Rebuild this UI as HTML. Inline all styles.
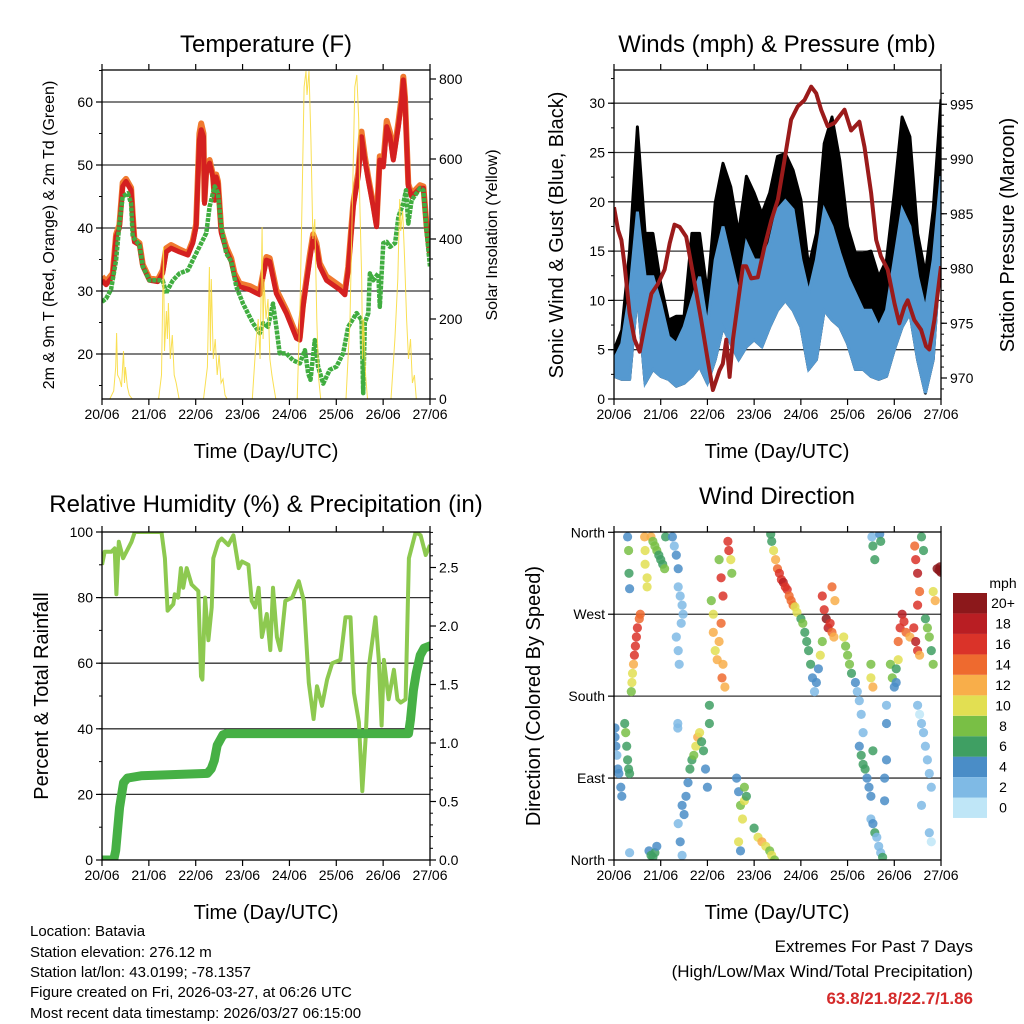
<!DOCTYPE html>
<html><head><meta charset="utf-8"><style>
html,body{margin:0;padding:0;background:#fff;}
svg{display:block;font-family:"Liberation Sans",Arial,sans-serif;}
</style></head><body>
<svg id="fig" xmlns="http://www.w3.org/2000/svg" width="1024" height="1024" viewBox="0 0 1024 1024">
<rect x="0" y="0" width="1024" height="1024" fill="#fff"/>
<g font-size="24" text-anchor="middle" fill="#000">
<text x="266" y="52">Temperature (F)</text>
<text x="777" y="52">Winds (mph) &amp; Pressure (mb)</text>
<text x="266" y="512">Relative Humidity (%) &amp; Precipitation (in)</text>
<text x="777" y="504">Wind Direction</text>
</g>
<g font-size="20" text-anchor="middle">
<text x="266" y="458">Time (Day/UTC)</text>
<text x="777" y="458">Time (Day/UTC)</text>
<text x="266" y="919">Time (Day/UTC)</text>
<text x="777" y="919">Time (Day/UTC)</text>
<text transform="translate(563,235) rotate(-90)">Sonic Wind &amp; Gust (Blue, Black)</text>
<text transform="translate(1014,235) rotate(-90)">Station Pressure (Maroon)</text>
<text transform="translate(48,696) rotate(-90)">Percent &amp; Total Rainfall</text>
<text transform="translate(540,696) rotate(-90)">Direction (Colored By Speed)</text>
</g>
<g font-size="16" text-anchor="middle">
<text transform="translate(54,235) rotate(-90)">2m &amp; 9m T (Red, Orange) &amp; 2m Td (Green)</text>
<text transform="translate(497,235) rotate(-90)">Solar Insolation (Yellow)</text>
</g>
<g font-size="15">
<text x="30" y="936">Location: Batavia</text>
<text x="30" y="957">Station elevation: 276.12 m</text>
<text x="30" y="977">Station lat/lon: 43.0199; -78.1357</text>
<text x="30" y="997">Figure created on Fri, 2026-03-27, at 06:26 UTC</text>
<text x="30" y="1018">Most recent data timestamp: 2026/03/27 06:15:00</text>
</g>
<g font-size="17" text-anchor="end">
<text x="973" y="952">Extremes For Past 7 Days</text>
<text x="973" y="977">(High/Low/Max Wind/Total Precipitation)</text>
<text x="973" y="1004" font-weight="bold" fill="#d42a2a">63.8/21.8/22.7/1.86</text>
</g>
<g id="dyn"></g>
</svg>
<script>
// ---- Temperature panel data (hours since 20/06 00Z) ----
var tempHours=[0,2.1,5.5,7.2,8.9,10.6,12.3,14.9,15.7,16.6,19.2,20.9,24.3,28.6,31.1,32.9,35.4,39.7,44,46.5,48.2,49.9,50.8,52,52.5,53.4,55.1,56.8,57.7,58.5,59.4,61.1,63.6,66.2,67.9,70.5,75.6,80.8,82.5,84.2,85.9,89.3,94.4,99.6,101.3,103,106.4,108.1,109.8,111.5,115,121.8,124.4,126.1,128.7,131.2,132.9,134.6,136.4,138.9,140.6,142.3,144.1,145.8,147.5,149.2,151.8,153.5,154.3,155.2,156.9,158.6,162.9,164.6,166.3,168];
var tempRed=[31.7,31,32.3,38.6,40,46.6,47.4,46,41.8,37.8,37.3,33.9,31.7,31.5,32.8,36.2,36.8,36.2,35.7,37.6,40.2,54,55.6,54.5,43.9,48.7,50.3,48.1,44.4,48.1,47,39.2,36.5,34.7,32.3,30.7,30.2,29.4,32.3,34.9,34.7,29.6,26.5,22.5,22.2,27.5,34.9,38.4,37,33.9,31.7,30.2,29.4,33.3,43.4,48.1,54.5,50.8,47.6,43.4,40.2,50.8,49.7,56.1,54.5,50.8,56.1,60.3,63.5,60.3,46.6,45,46.3,46.3,39.7,35.5];
var tempOrange=[32.3,31.5,32.8,39,40.5,47.2,47.8,46.4,42.2,38.2,37.6,34.2,32,31.8,33.3,36.8,37.3,36.6,36,38,40.6,55,56.6,55,44.3,49.2,50.8,48.5,44.8,48.5,47.4,39.6,37,35.2,32.8,31.2,30.8,30,32.8,35.4,35.2,30.2,27,23,22.6,28,35.6,39,37.6,34.4,32.3,30.8,30,33.8,44,48.8,55.3,51.4,48,43.8,40.6,51.4,50.4,57,55.2,51.2,56.8,61,64,60.8,47,45.4,46.8,46.6,40.1,35.9];
var dewHours=[0,2.1,4.6,7.2,8.9,10.6,13.2,14.9,15.7,19.2,20.9,24.3,31.1,32.9,33.7,36.3,39.7,44,46.5,49.9,53.4,55.1,56.8,57.7,59.4,61.1,63.6,66.2,68.8,72.2,77.3,80.8,82.5,85,87.6,89.3,91,94.4,97.9,101.3,103.9,105.6,106.8,109,110.7,113.3,116.7,120.1,123.5,126.1,130.4,132.9,133.8,134.6,136.4,137.2,138.9,141.5,142.3,144.1,145.8,147.5,150.1,151.8,154.3,155.7,156.9,158.6,162.9,164.6,166.3,168];
var dewVals=[28.3,28.8,30.2,34.9,40.7,45,45.5,43.9,38.6,37.3,33.9,31.7,31.7,29.6,30.2,31.7,32.8,33.3,34.9,37,39.2,43.4,45.5,46.6,45.5,40.2,36,34.7,30.7,28,24.9,23.3,24.9,24.3,28,24.3,20.1,20.1,19,18.5,20.6,16.9,15.9,22.2,18,15.3,17.5,18,20.1,24.3,26.5,25.4,13.8,24.9,26.5,32.8,31.7,32.8,27.5,37.6,37.8,37,37.6,41.8,43.9,46,40.7,44.4,46.3,46,39.2,33.9];
var solarHours=[0,4,6,7,7.5,8,9,10,11,11.5,12,13,14,15.5,29,30.5,31.5,32,33,33.5,34,35,36,37,38,39.5,52,54,55,55.5,56,57,58,59,60,61,62,63,64,77,79,80,81,82,82.5,83,84,85,86,87,88,89,100,101.5,102.5,103.5,104.5,105,106,107,108,109,110,111,112,125,127,128.5,129.5,130.5,131.5,132,133,133.5,134,135,136,148,150,151.5,152.5,153,154,155,156,157,158,159,160,161,168];
var solarVals=[0,0,20,80,165,60,50,30,120,40,80,30,10,0,0,60,380,120,220,150,240,100,160,60,40,0,0,80,330,120,300,100,150,60,110,40,50,10,0,0,150,200,100,430,150,300,200,250,100,60,30,0,0,250,500,780,820,760,820,650,400,450,200,50,0,0,200,550,780,810,700,500,300,100,200,60,0,0,150,300,500,420,470,350,200,100,150,40,60,0,0];
var tempTicks=[20,30,40,50,60];
var solarTicks=[0,200,400,600,800];
var dayLabels=["20/06","21/06","22/06","23/06","24/06","25/06","26/06","27/06"];
// ---- Winds panel data ----
var presHours=[0,2.1,3.8,5.5,8,10.6,13.2,15.7,19.2,22.6,26,28.6,31.1,33.7,37.1,40.5,44.8,48.2,50.8,52.5,54.2,55.9,57.7,59.4,61.1,63.6,66.2,67.9,70.5,73.9,77.3,80.8,84.2,87.6,91,94.4,97.9,101.3,103.9,106.4,109.8,113.3,115.8,118.4,121.8,126.1,128.7,132.1,134.7,137.2,140.6,144.1,146.6,149.2,150.9,154.3,157.8,160.3,162,164.6,168];
var presVals=[985.6,983.5,982.6,980.2,975.9,973.5,972.4,974.7,977.7,978.6,979.9,982.3,984,983.8,982.9,979.6,975.3,971.6,968.9,969.8,970.7,971.3,973.5,970.1,973.5,976.8,980.2,980.2,979.1,979.2,982,984.4,986.3,989.9,993.6,994.8,995.4,996.6,996,994.5,993,993.3,993.9,994.5,992.6,993.4,991.1,986.9,982.6,981.1,979.9,976.8,975,976.5,977.1,975.3,974.4,972.9,972.6,975.3,980.2];
var windHours=[0,4,8,12,16,20,24,28,32,36,40,44,48,52,56,60,64,68,72,76,80,84,88,92,96,100,104,108,112,116,120,124,128,132,136,140,144,148,152,156,160,164,168];
var windLow=[2.3,2,2,10.7,1.6,3,2.3,2,1.3,1.6,2.3,3.3,1.6,4,7.3,5.6,4,5.3,6,5.3,7.3,9,10,9,7.3,3,4,9,8,7.3,5.6,3,3,2.3,2,2.3,5,7.3,8.7,4,0.6,4,15.8];
var windHigh=[4,5.6,10.7,19,12.4,12.4,9.7,6.3,5.6,7.3,10,12.4,7.3,14.1,17.5,14.1,10.7,15.8,14.1,14.1,15.8,19.2,20.1,19.2,14.1,10.7,14.1,19.2,17.5,14.8,12.4,10.7,9,9,7.3,9,14.1,19.2,17.5,12.4,9,14.1,22.6];
var gustHigh=[5,7,15,27.6,16.8,16.8,11.7,8,8.4,8.4,16.8,16.8,10.7,19.9,23.9,21.5,16.8,22.6,20.9,18.8,20.9,24.6,24.9,23.2,20.2,13.4,16.8,25.9,28.6,24.2,17.5,14.8,14.8,15,12.4,14.1,20.9,28.6,26.6,16.8,12.7,19.2,30.3];
var windTicks=[0,5,10,15,20,25,30];
var presTicks=[970,975,980,985,990,995];
// ---- RH / precip ----
var rhHours=[0,1.4,4.8,6.5,7.4,8.6,10.8,15.1,16.8,30.5,32.2,33.6,36.5,37.3,39,40.4,41.6,43.4,45.9,49.3,50.7,51.4,52.8,54.5,56.2,57,59.6,61.3,64.7,67.3,70,71.7,75,76.7,78.4,80.2,81.9,84.4,86.2,87.6,89.6,91.3,93.9,97.4,100.8,103.4,105.9,108.4,110.1,112.7,115.3,117.9,122.1,124.7,127.3,129,131.6,133.3,135,136.7,140.1,141.8,143.2,144.4,146.8,149.5,151.3,153,155.5,157.2,160.7,163.2,165.8,168];
var rhVals=[90,94,94,95,81,97,92,97,100,100,92,76,78,81,80,89,83,89,84,82,56,55,80,67,77,92,97,98,96,99,89,91,90,79,77,83,68,75,64,83,68,64,79,80,85,79,54,43,53,47,55,60,61,74,74,51,42,21,37,59,74,61,41,61,49,58,49,48,49,92,100,99,93,96];
var precipHours=[0,6,7,9,11,13,20,54,56,57.5,59,62,64,157,158,159.5,161,163,165,168];
var precipVals=[0,0,0.08,0.45,0.66,0.70,0.72,0.74,0.78,0.85,0.98,1.07,1.08,1.08,1.2,1.45,1.6,1.75,1.81,1.83];
var rhTicks=[0,20,40,60,80,100];
var precipTicks=[0,0.5,1,1.5,2,2.5];
// ---- Wind direction ----
var dirHours=[0.5,0.5,1,1.5,2,2.5,3.5,4,5.5,6,6.5,7,7.5,8,8.9,9.2,9.5,10,10.5,11,11.5,12,13,13.5,7.5,7.7,8,7,15.7,16,16,17,17,19,20,21,22,23,24,25,26,26.5,30,31,32,33,33,34,35,35.5,34.5,32,33,33.5,32.8,32.8,18,19,20,21,22,8,33,34,35,35,36,37,38,39,40,41,42,43,44,45,46,47,48,49,49,50,51,51,52,53,54,55,55.5,56,57,56,55,54,58.5,59,60,60.5,63,64,65,66,67,67,68,64,65,72,74,76,78,80,81,82.5,80.5,81,82,83,84,85,86,87,88,89,90,91,92,93,94,96,97,98,99,100,101,102,103,104,105,106,107,107,108,109,110,111,112,113,113.5,112,118,119,120,121,122,124,125,126,127,128,126,127,128,129,130,131,132,133,132,133,134,135,136,137,138,139,139,140,140,140,132.5,133,134,136.5,137,132,132,133,142,143,144,145,145,146,146,147,148,149,150,152,154,155,156,157,154.5,155,156,157,156,158,159,156,157,158,159,160,161,162,163,162,163,158,160,161,162,163,164,165,164,166,167,168,167.5];
var dirDeg=[145,135,125,115,100,95,80,70,150,140,125,110,100,95,185,195,205,215,225,235,245,255,265,270,340,315,298,355,355,340,325,310,300,355,350,345,340,335,330,325,320,355,355,345,335,320,300,290,280,270,260,245,230,215,150,145,10,5,3,8,15,8,40,20,5,60,50,70,85,100,110,115,125,135,140,130,120,100,80,150,170,285,270,250,230,220,240,260,200,215,190,290,310,330,350,340,330,315,90,75,60,45,65,80,70,20,10,35,25,20,15,10,5,0,358,350,340,330,320,315,308,305,300,297,290,285,280,278,272,265,260,250,240,230,215,200,185,195,210,225,240,290,275,265,255,260,250,245,285,300,245,235,225,215,205,195,185,175,160,140,125,115,105,100,90,80,70,120,45,40,30,25,15,8,3,65,90,110,150,170,355,345,330,358,350,200,215,190,215,200,190,195,210,220,240,255,270,262,250,245,255,240,230,225,345,330,315,295,280,355,340,170,160,150,140,125,110,95,80,30,20,60,265,255,245,230,215,285,295,320,318,316,322];
var dirSpeed=[4,4,4,3,4,4,4,4,7,8,7,7,6,6,8,10,10,13,16,17,17,16,15,14,9,6,4,4,12,11,10,10,11,12,8,8,9,7,7,7,8,6,4,3,4,4,3,2,3,2,2,2,2,2,2,3,5,6,7,6,5,3,2,4,3,4,4,4,4,6,7,8,10,12,10,7,6,5,4,6,6,8,10,12,10,12,13,14,14,12,13,17,16,9,17,16,10,9,5,5,8,10,11,8,7,10,4,7,10,12,11,8,10,8,6,7,10,12,14,16,17,18,16,17,15,14,15,11,10,7,9,7,6,6,7,4,3,4,5,10,8,16,17,20,18,16,14,12,13,14,11,9,9,8,7,4,3,2,2,2,5,6,6,7,5,4,5,7,3,4,6,3,3,3,7,4,4,4,4,3,3,6,7,5,6,10,9,12,9,8,5,4,7,10,14,16,18,17,14,12,17,18,16,13,14,16,18,14,16,7,6,2,1,2,2,2,2,3,2,2,1,2,7,9,8,6,8,12,10,20,22,21,20];
var dirTicks=[0,90,180,270,360];
var dirLabels=["North","East","South","West","North"];
var cbLabels=["0","2","4","6","8","10","12","14","16","18","20+"];
var cbColors=["#bfe6f7","#7fbae5","#4a8dc7","#3f9f63","#79bf45","#e2df52","#f8ae4a","#ee6a2f","#da3329","#b91e23","#8c181b"];

var NS="http://www.w3.org/2000/svg";
var root=document.getElementById('dyn');
function mk(tag,a,parent){var e=document.createElementNS(NS,tag);for(var k in a)e.setAttribute(k,a[k]);(parent||root).appendChild(e);return e;}
function txt(s,x,y,anchor,size){var t=mk('text',{x:x,y:y,'text-anchor':anchor,'font-size':size||14});t.textContent=s;return t;}
function pts(xs,ys,fx,fy){var o=[];for(var i=0;i<xs.length;i++)o.push(fx(xs[i]).toFixed(1)+','+fy(ys[i]).toFixed(1));return o.join(' ');}

function x1(h){return 102+h*328/168;}
function x2(h){return 614+h*327/168;}
function yT(v){return 354-(v-20)*6.3;}
function yS(v){return 399-v*0.4;}
function yW(v){return 399-v*9.86;}
function yP(v){return 378-(v-970)*10.95;}
function yRH(v){return 860-v*3.28;}
function yPr(v){return 860-v*117;}
function yD(v){return 860-v*327.7/360;}

var defs=mk('defs',{});
[[1,102,70,328,329],[2,614,70,327,329],[3,102,532,328,328],[4,614,532,327,328]].forEach(function(c){
 var cp=mk('clipPath',{id:'c'+c[0]},defs);mk('rect',{x:c[1],y:c[2],width:c[3],height:c[4]},cp);});

function hgrid(vals,fy,xa,xb,name){vals.forEach(function(v){var y=fy(v);
 var l=mk('line',{x1:xa,x2:xb,y1:y,y2:y,stroke:'#333','stroke-width':1.3});
 
 });}
hgrid([20,30,40,50,60],yT,102,430,'temp-gridline');
hgrid([5,10,15,20,25,30],yW,614,941,'wind-gridline');
hgrid([20,40,60,80],yRH,102,430,'rh-gridline');
hgrid([90,180,270],yD,614,941,'dir-gridline');

var g1=mk('g',{'clip-path':'url(#c1)'});
var pl=mk('polyline',{points:pts(tempHours,tempOrange,x1,yT),fill:'none',stroke:'#f07a30','stroke-width':6,'stroke-linejoin':'round'},g1);


pl=mk('polyline',{points:pts(tempHours,tempRed,x1,yT),fill:'none',stroke:'#d42020','stroke-width':5,'stroke-linejoin':'round'},g1);


pl=mk('polyline',{points:pts(dewHours,dewVals,x1,yT),fill:'none',stroke:'#40ad40','stroke-width':4.5,'stroke-linejoin':'round','stroke-dasharray':'4 1'},g1);


pl=mk('polyline',{points:pts(solarHours,solarVals,x1,yS),fill:'none',stroke:'#f8dc40','stroke-width':1,'stroke-opacity':0.9},g1);



var g2=mk('g',{'clip-path':'url(#c2)'});
function area(xs,lo,hi,fx,fy){var a=[];for(var i=0;i<xs.length;i++)a.push(fx(xs[i]).toFixed(1)+','+fy(hi[i]).toFixed(1));for(var j=xs.length-1;j>=0;j--)a.push(fx(xs[j]).toFixed(1)+','+fy(lo[j]).toFixed(1));return a.join(' ');}
var ga=mk('polygon',{points:area(windHours,windLow,gustHigh,x2,yW),fill:'#000',stroke:'#000','stroke-width':3,'stroke-linejoin':'round'},g2);


var wa=mk('polygon',{points:area(windHours,windLow,windHigh,x2,yW),fill:'#5599d0',stroke:'#5599d0','stroke-width':3},g2);


pl=mk('polyline',{points:pts(presHours,presVals,x2,yP),fill:'none',stroke:'#9b1b1b','stroke-width':4,'stroke-linejoin':'round'},g2);



var g3=mk('g',{'clip-path':'url(#c3)'});
pl=mk('polyline',{points:pts(rhHours,rhVals,x1,yRH),fill:'none',stroke:'#8dc950','stroke-width':4,'stroke-linejoin':'round'},g3);


pl=mk('polyline',{points:pts(precipHours,precipVals,x1,yPr),fill:'none',stroke:'#46b045','stroke-width':9,'stroke-linejoin':'round','stroke-linecap':'round'},g3);



var g4=mk('g',{'clip-path':'url(#c4)'});
function scol(s){var i=Math.min(10,Math.floor(s/2));return cbColors[i];}
for(var i=0;i<dirHours.length;i++){
 var c=mk('circle',{cx:x2(dirHours[i]).toFixed(1),cy:yD(dirDeg[i]).toFixed(1),r:4.6,fill:scol(dirSpeed[i]),'fill-opacity':0.85},g4);
 
 
}

[[102,70,328,329,'temp-plot-frame'],[614,70,327,329,'wind-plot-frame'],[102,532,328,328,'rh-plot-frame'],[614,532,327,328,'dir-plot-frame']].forEach(function(f){
 var r=mk('rect',{x:f[0],y:f[1],width:f[2],height:f[3],fill:'none',stroke:'#000','stroke-width':1.3});
 
 });

function xTicks(fx,yt,yb,name){for(var d=0;d<8;d++){var x=fx(d*24);
 mk('line',{x1:x,x2:x,y1:yb,y2:yb+6,stroke:'#000','stroke-width':1.2});
 mk('line',{x1:x,x2:x,y1:yt,y2:yt-6,stroke:'#000','stroke-width':1.2});
 var t=txt(dayLabels[d],x,yb+20,'middle',14);
 
 }}
xTicks(x1,70,399,'temp-x-tick-label');xTicks(x2,70,399,'wind-x-tick-label');
xTicks(x1,532,860,'rh-x-tick-label');xTicks(x2,532,860,'dir-x-tick-label');
function yTicks(vals,labels,fy,x,side,name,minorStep,lo,hi){
 var dir=side==='l'?-1:1;
 vals.forEach(function(v,i){var y=fy(v);mk('line',{x1:x,x2:x+dir*6,y1:y,y2:y,stroke:'#000','stroke-width':1.2});
  var t=txt(labels[i],x+dir*9,y+5,side==='l'?'end':'start',14);
  
  });
 if(minorStep){for(var m=lo;m<=hi+1e-9;m+=minorStep){var y=fy(m);mk('line',{x1:x,x2:x+dir*3,y1:y,y2:y,stroke:'#000','stroke-width':1});}}
}
yTicks(tempTicks,tempTicks.map(String),yT,102,'l','temp-y-tick-label',5,15,65);
yTicks(solarTicks,solarTicks.map(String),yS,430,'r','solar-y-tick-label',50,0,800);
yTicks(windTicks,windTicks.map(String),yW,614,'l','wind-y-tick-label',2.5,0,32.5);
yTicks(presTicks,presTicks.map(String),yP,941,'r','pressure-y-tick-label',1,969,996);
yTicks(rhTicks,rhTicks.map(String),yRH,102,'l','rh-y-tick-label',10,0,100);
yTicks(precipTicks,precipTicks.map(function(v){return v.toFixed(1);}),yPr,430,'r','precip-y-tick-label',0.1,0,2.8);
yTicks(dirTicks,dirLabels,yD,614,'l','dir-y-tick-label',0,0,0);

for(var k=0;k<cbColors.length;k++){
 var yb=818-(k+1)*20.45;
 var r=mk('rect',{x:953,y:yb.toFixed(1),width:34,height:20.45,fill:cbColors[k]});
 
 
 var t=txt(cbLabels[k],1003,yb+15,'middle',14);
 
 
}
var ut=txt('mph',1003,588,'middle',14);


</script>
</body></html>
